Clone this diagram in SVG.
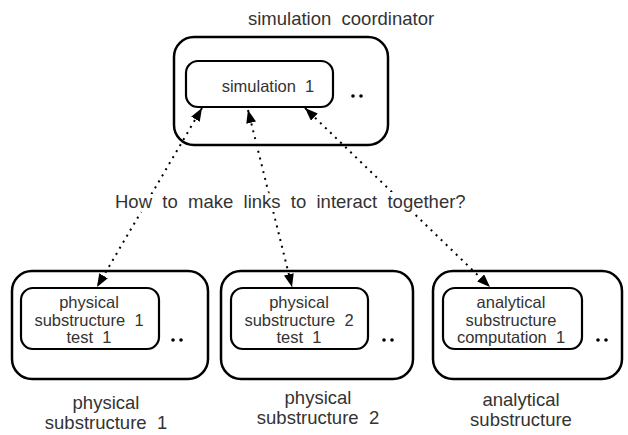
<svg xmlns="http://www.w3.org/2000/svg" width="628" height="435" viewBox="0 0 628 435">
  <style>
    .outer { fill: #fff; stroke: #000; stroke-width: 2.5; }
    .inner { fill: #fff; stroke: #000; stroke-width: 2.2; }
    text { font-family: "Liberation Sans", Arial, sans-serif; fill: #333; text-anchor: middle; }
    .lbl { font-size: 16.5px; }
    .cap { font-size: 18.5px; }
    .q { font-size: 18.5px; text-anchor: start; stroke: #fff; stroke-width: 8; stroke-linejoin: round; paint-order: stroke; }
    .link { stroke: #000; stroke-width: 2; stroke-dasharray: 2 5; fill: none; marker-start: url(#head); marker-end: url(#head); }
    .dot { fill: #000; }
  </style>
  <defs>
    <marker id="head" viewBox="0 0 13 10" refX="13" refY="5" markerWidth="13" markerHeight="10" markerUnits="userSpaceOnUse" orient="auto-start-reverse">
      <path d="M0,0 L13,5 L0,10 Z" fill="#000"/>
    </marker>
  </defs>

  <!-- top: coordinator -->
  <g id="coordinator">
    <text class="cap" x="248" y="25" style="text-anchor:start" xml:space="preserve">simulation  coordinator</text>
    <rect class="outer" x="174" y="37" width="214" height="108" rx="20"/>
    <circle class="dot" cx="353" cy="96" r="1.8"/>
    <circle class="dot" cx="361" cy="96" r="1.8"/>
  </g>
  <g id="simulation1">
    <rect class="inner" x="186" y="61" width="147" height="46" rx="12"/>
    <text class="lbl" x="268" y="92" xml:space="preserve">simulation  1</text>
  </g>

  <!-- bottom: physical substructure 1 -->
  <g id="phys1">
    <rect class="outer" x="12" y="271" width="196" height="108" rx="20"/>
    <circle class="dot" cx="173" cy="340" r="1.8"/>
    <circle class="dot" cx="181" cy="340" r="1.8"/>
    <text class="cap" x="106" y="409">physical</text>
    <text class="cap" x="106" y="429" xml:space="preserve">substructure  1</text>
  </g>
  <g id="phys1test">
    <rect class="inner" x="21" y="288" width="138" height="61" rx="12"/>
    <text class="lbl" x="89" y="308">physical</text>
    <text class="lbl" x="89" y="326" xml:space="preserve">substructure  1</text>
    <text class="lbl" x="89" y="343" xml:space="preserve">test  1</text>
  </g>

  <!-- bottom: physical substructure 2 -->
  <g id="phys2">
    <rect class="outer" x="221" y="271" width="192" height="108" rx="20"/>
    <circle class="dot" cx="384" cy="340" r="1.8"/>
    <circle class="dot" cx="392" cy="340" r="1.8"/>
    <text class="cap" x="318" y="404">physical</text>
    <text class="cap" x="318" y="424" xml:space="preserve">substructure  2</text>
  </g>
  <g id="phys2test">
    <rect class="inner" x="231" y="288" width="137" height="61" rx="12"/>
    <text class="lbl" x="299" y="308">physical</text>
    <text class="lbl" x="299" y="326" xml:space="preserve">substructure  2</text>
    <text class="lbl" x="299" y="343" xml:space="preserve">test  1</text>
  </g>

  <!-- bottom: analytical substructure -->
  <g id="analytical">
    <rect class="outer" x="433" y="271" width="189" height="108" rx="20"/>
    <circle class="dot" cx="598" cy="340" r="1.8"/>
    <circle class="dot" cx="606" cy="340" r="1.8"/>
    <text class="cap" x="521" y="406">analytical</text>
    <text class="cap" x="521" y="426">substructure</text>
  </g>
  <g id="analytical1">
    <rect class="inner" x="443" y="288" width="139" height="61" rx="12"/>
    <text class="lbl" x="511" y="308">analytical</text>
    <text class="lbl" x="511" y="326">substructure</text>
    <text class="lbl" x="511" y="343" xml:space="preserve">computation  1</text>
  </g>

  <!-- links -->
  <g id="links">
    <line class="link" x1="202" y1="108" x2="97" y2="287"/>
    <line class="link" x1="248" y1="110" x2="292" y2="287"/>
    <line class="link" x1="305" y1="108" x2="490" y2="287"/>
  </g>

  <g id="question">
    <text class="q" x="115" y="208" xml:space="preserve">How  to  make  links  to  interact  together?</text>
  </g>
</svg>
